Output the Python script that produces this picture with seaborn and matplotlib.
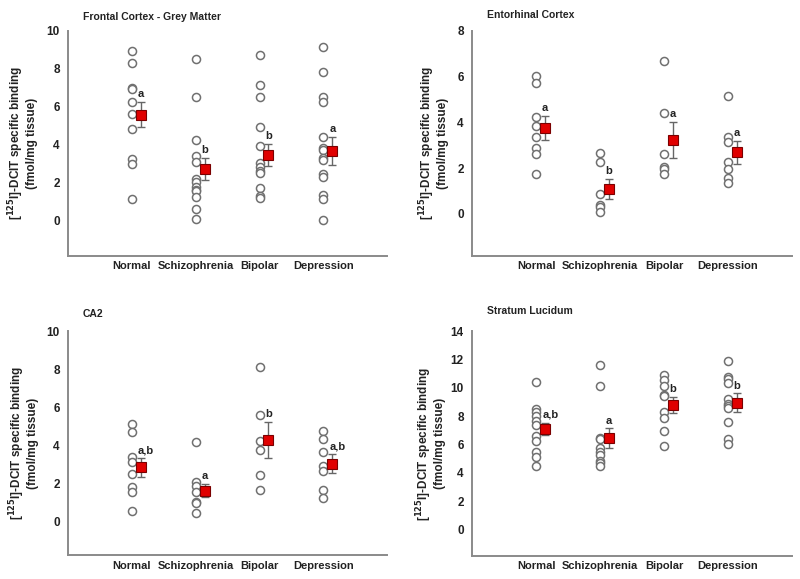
import numpy as np
import pandas as pd
import matplotlib
matplotlib.use("Agg")
import matplotlib.pyplot as plt
import seaborn as sns

groups = ["Normal", "Schizophrenia", "Bipolar", "Depression"]

# individual subjects per group (fmol/mg tissue)
fc_points = [
    [8.93, 8.31, 7.0, 6.92, 6.22, 5.62, 4.80, 3.22, 2.99, 1.11],
    [8.49, 6.50, 4.22, 3.39, 3.06, 2.18, 2.04, 1.78, 1.63, 1.56, 1.25, 0.60, 0.09],
    [8.72, 7.12, 6.50, 4.92, 3.92, 3.02, 2.83, 2.60, 2.48, 1.70, 1.30, 1.20],
    [9.14, 7.80, 6.50, 6.22, 4.39, 3.83, 3.71, 3.29, 3.18, 2.44, 2.30, 1.34, 1.11, 0.0],
]
fc_mean = [5.57, 2.71, 3.46, 3.67]
fc_sem = [0.66, 0.585, 0.59, 0.73]
fc_letters = ["a", "b", "b", "a"]

ec_points = [
    [6.01, 5.70, 4.21, 3.85, 3.34, 2.86, 2.61, 1.73],
    [2.67, 2.27, 0.85, 0.39, 0.31, 0.06],
    [6.69, 4.39, 2.62, 2.06, 1.94, 1.72],
    [5.15, 3.37, 3.15, 2.26, 1.97, 1.57, 1.34],
]
ec_mean = [3.76, 1.08, 3.22, 2.68]
ec_sem = [0.525, 0.45, 0.79, 0.505]
ec_letters = ["a", "b", "a", "a"]

ca2_points = [
    [5.14, 4.68, 3.40, 3.11, 2.51, 1.84, 1.53, 0.56],
    [4.16, 2.09, 1.88, 1.53, 1.05, 1.00, 0.44],
    [8.14, 5.61, 4.25, 3.74, 2.46, 1.68],
    [4.74, 4.33, 3.68, 2.93, 2.68, 1.67, 1.26],
]
ca2_mean = [2.84, 1.63, 4.30, 3.04]
ca2_sem = [0.475, 0.35, 0.95, 0.495]
ca2_letters = ["a,b", "a", "b", "a,b"]

sl_points = [
    [10.44, 8.51, 8.27, 7.99, 7.68, 7.38, 6.58, 6.27, 5.44, 5.09, 4.50],
    [11.64, 10.16, 6.46, 6.39, 5.73, 5.44, 5.28, 4.86, 4.69, 4.50],
    [10.91, 10.58, 10.16, 9.50, 9.45, 8.27, 7.87, 6.93, 5.87],
    [11.88, 10.75, 10.63, 10.32, 9.22, 8.86, 8.74, 8.58, 7.61, 6.39, 6.03],
]
sl_mean = [7.09, 6.43, 8.81, 8.96]
sl_sem = [0.45, 0.705, 0.565, 0.65]
sl_letters = ["a,b", "a", "b", "b"]

sns.set_style("white")
plt.rcParams["font.family"] = ["Liberation Sans", "DejaVu Sans"]
plt.rcParams["font.weight"] = "bold"
plt.rcParams["mathtext.default"] = "bf"

fig = plt.figure(figsize=(8, 5.79), dpi=100)

panels = [
    # title, points, mean, sem, letters, ymin, ymax, rect, title_y, ylabel_x
    ("Frontal Cortex - Grey Matter", fc_points, fc_mean, fc_sem, fc_letters,
     -1.87, 10, [0.085, 0.558, 0.399, 0.389], 1.06, -0.094),
    ("Entorhinal Cortex", ec_points, ec_mean, ec_sem, ec_letters,
     -1.84, 8, [0.590, 0.558, 0.400, 0.389], 1.07, -0.072),
    ("CA2", ca2_points, ca2_mean, ca2_sem, ca2_letters,
     -1.77, 10, [0.085, 0.041, 0.399, 0.387], 1.075, -0.09),
    ("Stratum Lucidum", sl_points, sl_mean, sl_sem, sl_letters,
     -1.87, 14, [0.590, 0.040, 0.400, 0.388], 1.09, -0.08),
]

grey = "#8a8a8a"
offset = 0.14

for title, points, mean, sem, letters, ymin, ymax, rect, ty, ylx in panels:
    ax = fig.add_axes(rect)
    df = pd.DataFrame({
        "group": [g for g, vals in zip(groups, points) for _ in vals],
        "value": [v for vals in points for v in vals],
    })
    sns.stripplot(data=df, x="group", y="value", order=groups, jitter=False,
                  ax=ax, size=5.8, color="white", edgecolor="#707070",
                  linewidth=1.1, zorder=2)
    xs = np.arange(len(groups)) + offset
    ax.errorbar(xs, mean, yerr=sem, fmt="none", ecolor="#666666",
                elinewidth=1.0, capsize=3, capthick=1.0, zorder=3)
    ax.plot(xs, mean, linestyle="none", marker="s", markersize=7,
            markerfacecolor="#e00000", markeredgecolor="#7a0000",
            markeredgewidth=0.8, zorder=4)
    for x, m, s, lab in zip(xs, mean, sem, letters):
        if "," in lab:
            ax.annotate(lab, (x, m + s), xytext=(-2, 2), textcoords="offset points",
                        ha="left", va="bottom", fontsize=8, fontweight="bold",
                        color="#222222")
        else:
            ax.annotate(lab, (x, m + s), xytext=(0, 2), textcoords="offset points",
                        ha="center", va="bottom", fontsize=8, fontweight="bold",
                        color="#222222")

    ax.set_xlim(-1, 4)
    ax.set_ylim(ymin, ymax)
    ax.set_yticks(np.arange(0, ymax + 0.1, 2))
    ax.set_xlabel("")
    ax.set_ylabel("[$^{125}$I]-DCIT specific binding\n(fmol/mg tissue)",
                  fontsize=8.5, fontweight="bold", linespacing=1.05,
                  color="#222222")
    ax.yaxis.set_label_coords(ylx, 0.5)
    sns.despine(ax=ax)
    for sp in ["left", "bottom"]:
        ax.spines[sp].set_color(grey)
        ax.spines[sp].set_linewidth(1.4)
    ax.tick_params(axis="y", length=3, width=0.8, color=grey, labelsize=8.5,
                   pad=3, direction="out")
    ax.tick_params(axis="x", length=3, width=0.8, color=grey, labelsize=8,
                   pad=4, direction="in")
    for lab in ax.get_xticklabels() + ax.get_yticklabels():
        lab.set_fontweight("bold")
        lab.set_color("#222222")
    ax.text(0.047, ty, title, transform=ax.transAxes, ha="left", va="center",
            fontsize=7.5, fontweight="bold", color="#222222")

fig.savefig("out.png", dpi=100)
